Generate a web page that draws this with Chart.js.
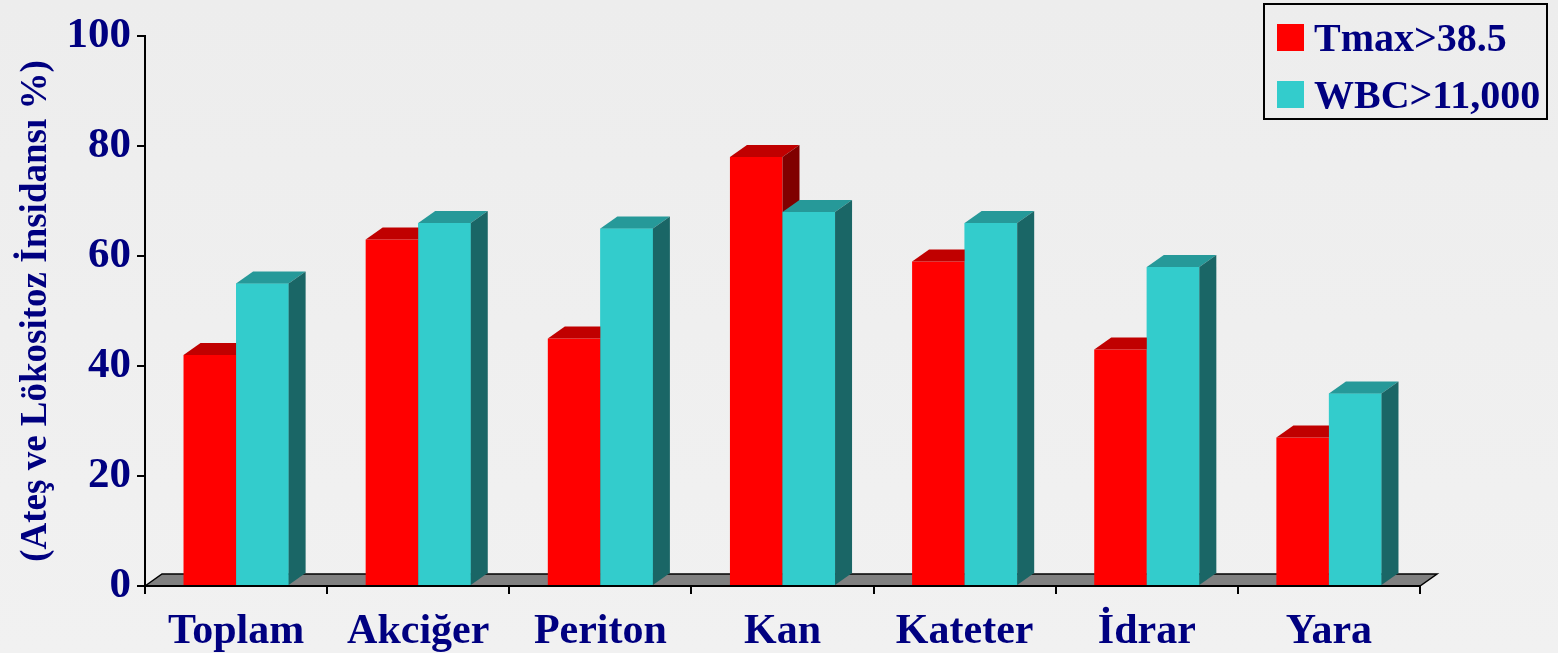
<!DOCTYPE html>
<html lang="tr">
<head>
  <meta charset="UTF-8">
  <title>Ateş ve Lökositoz İnsidansı</title>
  <script src="https://cdn.jsdelivr.net/npm/chart.js@4.4.0/dist/chart.umd.min.js"></script>
  <style>
    html, body { margin: 0; padding: 0; }
    body { background: linear-gradient(#ededed, #f1f1f1); }
    #wrap { width: 1558px; height: 653px; position: relative; }
  </style>
</head>
<body>
<div id="wrap"><canvas id="chart"></canvas></div>
<script>
  // data
  var categories = ['Toplam', 'Akciğer', 'Periton', 'Kan', 'Kateter', 'İdrar', 'Yara'];
  var tmaxValues = [42, 63, 45, 78, 59, 43, 27];
  var wbcValues = [55, 66, 65, 68, 66, 58, 35];
  var seriesNames = ['Tmax>38.5', 'WBC>11,000'];

  var NAVY = '#000080';
  var FONT = "'Liberation Serif', 'Times New Roman', serif";
  var DX = 17, DY = 12; // 3d depth offset

  var faces = [
    { front: '#ff0000', top: '#c00000', side: '#800000' },
    { front: '#33cccc', top: '#269999', side: '#1a6666' }
  ];

  function drawDepth(ctx, bar, c) {
    var L = bar.x - bar.width / 2, R = bar.x + bar.width / 2;
    var top = bar.y, base = bar.base;
    ctx.fillStyle = c.top;
    ctx.beginPath();
    ctx.moveTo(L, top); ctx.lineTo(L + DX, top - DY);
    ctx.lineTo(R + DX, top - DY); ctx.lineTo(R, top);
    ctx.closePath(); ctx.fill();
    ctx.fillStyle = c.side;
    ctx.beginPath();
    ctx.moveTo(R, top); ctx.lineTo(R + DX, top - DY);
    ctx.lineTo(R + DX, base - DY); ctx.lineTo(R, base);
    ctx.closePath(); ctx.fill();
  }

  var bars3d = {
    id: 'bars3d',
    beforeDatasetsDraw: function(chart) {
      var ctx = chart.ctx, a = chart.chartArea;
      ctx.save();
      ctx.fillStyle = '#808080';
      ctx.strokeStyle = '#000';
      ctx.lineWidth = 1.5;
      ctx.beginPath();
      ctx.moveTo(a.left, a.bottom); ctx.lineTo(a.left + DX, a.bottom - DY);
      ctx.lineTo(a.right + DX, a.bottom - DY); ctx.lineTo(a.right, a.bottom);
      ctx.closePath(); ctx.fill(); ctx.stroke();
      ctx.restore();
    },
    afterDatasetsDraw: function(chart) {
      var ctx = chart.ctx;
      var m0 = chart.getDatasetMeta(0), m1 = chart.getDatasetMeta(1);
      ctx.save();
      for (var i = 0; i < categories.length; i++) {
        drawDepth(ctx, m0.data[i], faces[0]);
        m1.data[i].draw(ctx);
        drawDepth(ctx, m1.data[i], faces[1]);
      }
      // front edge of the floor
      var a = chart.chartArea;
      ctx.strokeStyle = '#000'; ctx.lineWidth = 2;
      ctx.beginPath(); ctx.moveTo(a.left, a.bottom); ctx.lineTo(a.right, a.bottom); ctx.stroke();
      ctx.restore();
    },
    afterDraw: function(chart) {
      // boxed legend in the top right corner
      var ctx = chart.ctx;
      ctx.save();
      ctx.strokeStyle = '#000'; ctx.lineWidth = 2;
      ctx.strokeRect(1264, 4, 283, 115);
      ctx.font = 'bold 40px ' + FONT;
      ctx.textBaseline = 'alphabetic';
      for (var i = 0; i < seriesNames.length; i++) {
        var y = 24 + i * 57;
        ctx.fillStyle = faces[i].front;
        ctx.fillRect(1277, y, 27, 27);
        ctx.fillStyle = NAVY;
        ctx.fillText(seriesNames[i], 1314, y + 27);
      }
      ctx.restore();
    }
  };

  new Chart(document.getElementById('chart'), {
    type: 'bar',
    data: {
      labels: categories,
      datasets: [
        { label: seriesNames[0], data: tmaxValues, backgroundColor: faces[0].front },
        { label: seriesNames[1], data: wbcValues, backgroundColor: faces[1].front }
      ]
    },
    plugins: [bars3d],
    options: {
      responsive: true,
      maintainAspectRatio: false,
      animation: false,
      layout: { padding: { top: 36, right: 138, left: 0, bottom: 0 } },
      categoryPercentage: 0.577,
      barPercentage: 1,
      plugins: { legend: { display: false }, tooltip: { enabled: false } },
      scales: {
        x: {
          afterFit: function(s) { s.height = 67; },
          grid: { offset: true, drawOnChartArea: false, drawTicks: true, tickLength: 8, color: '#000', lineWidth: 2 },
          border: { display: true, color: '#000', width: 2 },
          ticks: { color: NAVY, padding: 13, font: { family: FONT, size: 42, weight: 'bold' } }
        },
        y: {
          min: 0, max: 100,
          afterFit: function(s) { s.width = 145; },
          grid: { drawOnChartArea: false, drawTicks: true, tickLength: 8, color: '#000', lineWidth: 2 },
          border: { display: true, color: '#000', width: 2 },
          ticks: { stepSize: 20, color: NAVY, padding: 6, font: { family: FONT, size: 43, weight: 'bold' } },
          title: {
            display: true,
            text: '(Ateş ve Lökositoz İnsidansı %)',
            color: NAVY,
            padding: { top: 14, bottom: 0 },
            font: { family: FONT, size: 37, weight: 'bold' }
          }
        }
      }
    }
  });
</script>
</body>
</html>
